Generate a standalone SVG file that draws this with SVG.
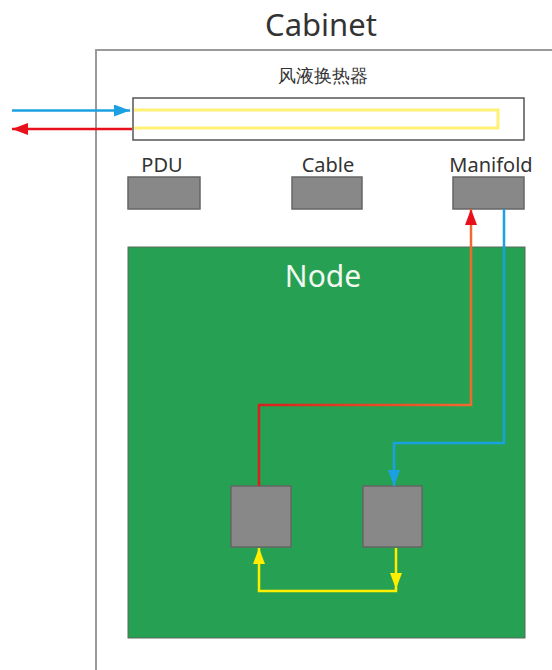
<svg xmlns="http://www.w3.org/2000/svg" width="552" height="670" viewBox="0 0 552 670">
<defs>
<style>
.lbl{font-family:"Noto Sans","Open Sans",sans-serif;fill:#333;text-anchor:middle}
.box{fill:#888;stroke:#666;stroke-width:1.5}
.pipe{fill:none;stroke-width:2.5}
</style>
<marker id="ab" viewBox="0 0 16 12" refX="16" refY="6" markerWidth="16" markerHeight="12" markerUnits="userSpaceOnUse" orient="auto"><path d="M0,0L16,6L0,12z" fill="#1ba1e2"/></marker>
<marker id="ar" viewBox="0 0 16 12" refX="16" refY="6" markerWidth="16" markerHeight="12" markerUnits="userSpaceOnUse" orient="auto"><path d="M0,0L16,6L0,12z" fill="#e8101a"/></marker>
<marker id="ay" viewBox="0 0 16 12" refX="16" refY="6" markerWidth="16" markerHeight="12" markerUnits="userSpaceOnUse" orient="auto"><path d="M0,0L16,6L0,12z" fill="#ffee00"/></marker>
<linearGradient id="rg" gradientUnits="userSpaceOnUse" x1="259" y1="0" x2="471" y2="0"><stop offset="0" stop-color="#d8201c"/><stop offset="1" stop-color="#f06a30"/></linearGradient>
</defs>
<rect width="552" height="670" fill="#fff"/>
<g id="cabinet">
<rect x="96" y="50" width="480" height="660" fill="none" stroke="#9a9a9a" stroke-width="2"/>
<text class="lbl" x="321" y="36" font-size="31">Cabinet</text>
</g>
<g id="heat-exchanger">
<text class="lbl" x="323" y="82" font-size="18" font-family="Noto Sans CJK SC,sans-serif">风液换热器</text>
<rect x="133" y="98" width="391" height="42" fill="none" stroke="#555" stroke-width="1.5"/>
<path d="M134,110H498V128H134" fill="none" stroke="#fff176" stroke-width="3"/>
</g>
<g id="pdu">
<text class="lbl" x="162" y="172" font-size="20">PDU</text>
<rect class="box" x="128" y="177" width="72" height="32"/>
</g>
<g id="cable">
<text class="lbl" x="328" y="172" font-size="20">Cable</text>
<rect class="box" x="292" y="177" width="70" height="32"/>
</g>
<g id="manifold">
<text class="lbl" x="491" y="172" font-size="20">Manifold</text>
<rect class="box" x="453" y="177" width="71" height="32"/>
</g>
<g id="node">
<rect x="128" y="247" width="397" height="391" fill="#26a052" stroke="#5a6a5a" stroke-width="1"/>
<text x="323" y="287" font-size="30" text-anchor="middle" font-family="Noto Sans,Open Sans,sans-serif" fill="#f0f8f0">Node</text>
</g>
<g id="cpu1"><rect class="box" x="231" y="486" width="60" height="61"/></g>
<g id="cpu2"><rect class="box" x="363" y="486" width="59" height="61"/></g>
<g id="connectors">
<path class="pipe" d="M12,110.5H130" stroke="#1ba1e2" marker-end="url(#ab)"/>
<path class="pipe" d="M132,129H12" stroke="#e8101a" marker-end="url(#ar)"/>
<path class="pipe" d="M259,486V405H471V209" stroke="url(#rg)" marker-end="url(#ar)"/>
<path class="pipe" d="M504,209V443H394V486" stroke="#1ba1e2" marker-end="url(#ab)"/>
<path class="pipe" d="M396,548V589" stroke="#ffee00" marker-end="url(#ay)"/>
<path class="pipe" d="M396,588V591H259V548" stroke="#ffee00" marker-end="url(#ay)"/>
</g>
</svg>
